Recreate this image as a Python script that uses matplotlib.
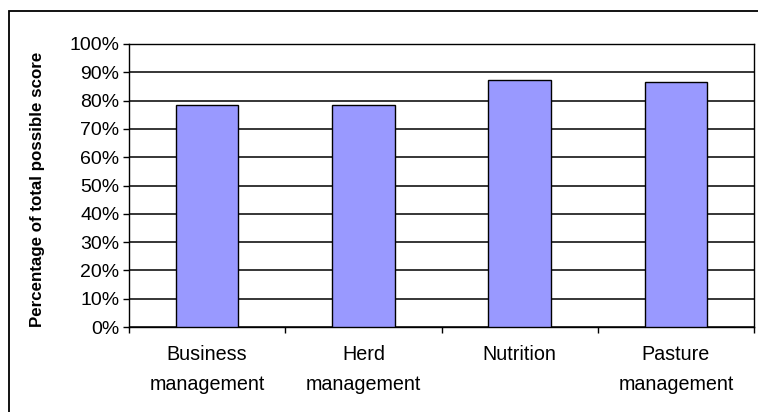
import matplotlib.pyplot as plt
from matplotlib.patches import Rectangle
from matplotlib.ticker import FixedLocator, PercentFormatter

plt.rcParams['font.family'] = ['Liberation Sans', 'DejaVu Sans']

# Data
categories = ['Business\nmanagement', 'Herd\nmanagement', 'Nutrition', 'Pasture\nmanagement']
scores = [78.4, 78.4, 87.2, 86.6]
y_ticks = list(range(0, 101, 10))

fig = plt.figure(figsize=(7.58, 4.12), dpi=100)
fig.patch.set_facecolor('white')

# outer chart frame (runs off the right and bottom edge)
fig.patches.append(Rectangle((9 / 758, -0.05), 1.0, 1 - 11 / 412 + 0.05,
                             transform=fig.transFigure, fill=False,
                             edgecolor='black', linewidth=1.3, zorder=0))

ax = fig.add_axes([129 / 758, 1 - 327 / 412, (754 - 129) / 758, (327 - 44) / 412])

x = range(len(categories))
ax.bar(x, scores, width=0.4, color='#9999FF', edgecolor='black', linewidth=1.0, zorder=3)

ax.set_xlim(-0.5, len(categories) - 0.5)
ax.set_ylim(0, 100)
ax.set_yticks(y_ticks)
ax.yaxis.set_major_formatter(PercentFormatter(decimals=0))
ax.grid(axis='y', color='black', linewidth=1.1, zorder=0)

ax.set_xticks(list(x))
ax.set_xticklabels(categories, fontsize=14.2, linespacing=1.72)
ax.tick_params(axis='x', which='major', length=0, pad=13)
ax.xaxis.set_minor_locator(FixedLocator([i - 0.5 for i in range(len(categories) + 1)]))
ax.tick_params(axis='x', which='minor', length=4, width=1, direction='out')
ax.tick_params(axis='y', labelsize=14, length=4, width=1, direction='out', pad=3)

for s in ax.spines.values():
    s.set_color('black')
    s.set_linewidth(1.0)

ax.set_ylabel('Percentage of total possible score', fontsize=12.2, fontweight='bold')
ax.yaxis.set_label_coords((45 - 129) / (754 - 129), 0.485)

fig.savefig('out.png', dpi=100)
